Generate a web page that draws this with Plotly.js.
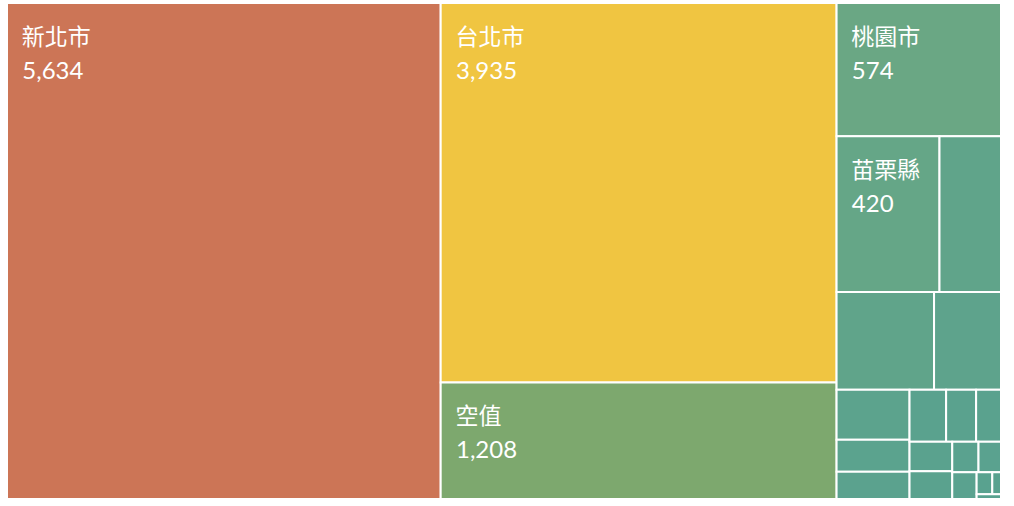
<!DOCTYPE html>
<html>
<head>
<meta charset="utf-8">
<script src="https://cdn.plot.ly/plotly-3.0.1.min.js"></script>
<style>
  html, body { margin: 0; padding: 0; background: #ffffff; }
  #chart { width: 1014px; height: 506px; }
</style>
</head>
<body>
<div id="chart"></div>
<script>
// Categories (regions) and their counts
const regions = ['新北市', '台北市', '空值', '桃園市', '苗栗縣',
  '新竹縣', '台中市', '新竹市', '基隆市', '宜蘭縣', '高雄市', '台南市',
  '彰化縣', '南投縣', '雲林縣', '嘉義市', '屏東縣', '花蓮縣', '嘉義縣',
  '台東縣', '澎湖縣', '金門縣'];
const counts = [5634, 3935, 1208, 574, 420,
  251, 249, 171, 96, 61, 52, 50,
  41, 34, 33, 31, 21, 18, 17,
  9, 5, 3];
const parents = regions.map(() => '');

// Only the larger tiles carry a visible label in the reference
const labelMin = 400;
const indent = '\u00a0\u00a0';
const spacer = '<span style="font-size:5px">\u00a0</span><br>';
const templates = counts.map(v => v >= labelMin
  ? spacer +
    '<span style="font-size:23px">' + indent + '%{label}</span><br>' +
    '<span style="font-size:24px">' + indent + '%{value:,}</span>'
  : '');

// Colour scale: low counts teal/green, mid yellow, top orange-red
const cmax = Math.max(...counts);
const colorscale = [
  [0.0, '#59a28f'],
  [0.102, '#6aa784'],
  [0.214, '#7da86e'],
  [0.698, '#f0c541'],
  [1.0, '#cc7556']
];

const fontFamily = 'Lato, "Noto Sans CJK TC", sans-serif';

const trace = {
  type: 'treemap',
  labels: regions,
  parents: parents,
  values: counts,
  texttemplate: templates,
  hovertemplate: '%{label}<br>%{value:,}<extra></extra>',
  textposition: 'top left',
  textfont: { family: fontFamily, size: 26, color: '#ffffff' },
  insidetextfont: { family: fontFamily, size: 26, color: '#ffffff' },
  marker: {
    colors: counts,
    colorscale: colorscale,
    cmin: 0,
    cmax: cmax,
    showscale: false,
    line: { color: '#ffffff', width: 2 },
    pad: { t: 0, l: 0, r: 0, b: 0 }
  },
  tiling: { packing: 'squarify', squarifyratio: 1.618034, pad: 0 },
  pathbar: { visible: false },
  sort: true
};

const layout = {
  width: 1014,
  height: 506,
  margin: { l: 7, r: 13, t: 3, b: 7 },
  paper_bgcolor: '#ffffff',
  plot_bgcolor: '#ffffff',
  showlegend: false
};

Plotly.newPlot('chart', [trace], layout, { displayModeBar: false, staticPlot: true });
</script>
</body>
</html>
